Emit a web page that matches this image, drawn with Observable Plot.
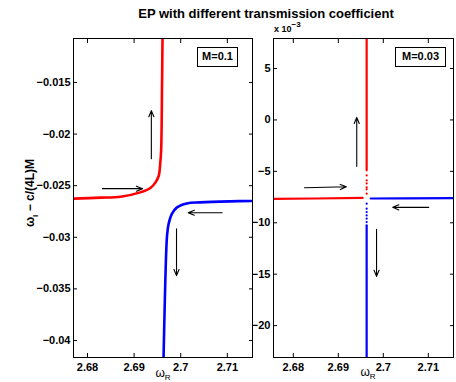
<!DOCTYPE html>
<html><head><meta charset="utf-8">
<script src="https://cdn.jsdelivr.net/npm/d3@7"></script>
<script src="https://cdn.jsdelivr.net/npm/@observablehq/plot@0.6"></script>
<style>
body{margin:0;background:#fff;}
#wrap{position:relative;width:456px;height:382px;overflow:hidden;font-family:"Liberation Sans",Arial,sans-serif;color:#000;background:#fff;}
.abs{position:absolute;white-space:nowrap;line-height:1;}
.box{position:absolute;border:1px solid #000;background:#fff;font-weight:bold;font-size:11px;text-align:center;box-sizing:border-box;line-height:17px;}
</style></head><body><div id="wrap"></div>
<script>
// ---- text ----
const title = "EP with different transmission coefficient";
const legendLeft = "M=0.1";
const legendRight = "M=0.03";

// ---- ticks ----
const xTicks = [2.68, 2.69, 2.70, 2.71];
const xTickLabels = ["2.68", "2.69", "2.7", "2.71"];
const yTicksL = [-0.04, -0.035, -0.03, -0.025, -0.02, -0.015];
const yTickLabelsL = ["\u22120.04", "\u22120.035", "\u22120.03", "\u22120.025", "\u22120.02", "\u22120.015"];
const yTicksR = [-20, -15, -10, -5, 0, 5];
const yTickLabelsR = ["\u221220", "\u221215", "\u221210", "\u22125", "0", "5"];

// ---- left panel (M=0.1) ----
const redLx = [2.677, 2.6828, 2.6871, 2.6913, 2.6935, 2.6946, 2.6953, 2.6956, 2.6958, 2.6960, 2.6961];
const redLy = [-0.02626, -0.02616, -0.02607, -0.02565, -0.02522, -0.02468, -0.02403, -0.0229, -0.0216, -0.0150, -0.0105];
const blueLx = [2.6963, 2.6966, 2.6969, 2.6971, 2.6974, 2.6981, 2.6992, 2.7013, 2.7042, 2.7106, 2.7156];
const blueLy = [-0.0420, -0.0360, -0.0313, -0.02968, -0.02871, -0.02774, -0.0271, -0.02672, -0.02662, -0.02652, -0.02648];
const arrLx1 = [2.6937, 2.6832, 2.7089, 2.6991];
const arrLy1 = [-0.02238, -0.02529, -0.02762, -0.02917];
const arrLx2 = [2.6937, 2.6918, 2.7016, 2.6991];
const arrLy2 = [-0.01773, -0.02529, -0.02762, -0.03372];

// ---- right panel (M=0.03), y in units of 1e-3 ----
const redRx = [2.6754, 2.685, 2.6954, 2.6963, 2.6963];
const redRy = [-7.68, -7.64, -7.58, -4.9, 8.2];
const redRseg = [0, 0, 0, 1, 1];
const redDotsY = [-7.17, -6.75, -6.56, -6.17, -5.88, -5.39];
const blueRx = [2.6972, 2.705, 2.7158, 2.6963, 2.6963];
const blueRy = [-7.64, -7.62, -7.60, -10.25, -23.3];
const blueRseg = [0, 0, 0, 1, 1];
const blueDotsY = [-8.14, -8.63, -8.96, -9.28, -9.60, -9.93];
const dotsX = 2.6963;
const arrRx1 = [2.6941, 2.6825, 2.7101, 2.6985];
const arrRy1 = [-4.51, -6.60, -8.50, -10.64];
const arrRx2 = [2.6941, 2.6918, 2.7021, 2.6985];
const arrRy2 = [0.25, -6.50, -8.50, -15.21];

const pts = (xs, ys, seg) => xs.map((x, i) => ({x, y: ys[i], s: seg ? seg[i] : 0}));
const arrows = (a, b, c, d) => a.map((v, i) => ({x1: v, y1: b[i], x2: c[i], y2: d[i]}));

const font = {fontFamily: "'Liberation Sans', Arial, sans-serif", fontSize: "11px", fontWeight: "bold", color: "#000", background: "transparent", overflow: "visible"};

function axes(yT, yL) {
  return [
    Plot.axisX({ticks: xTicks, tickSize: -4, tickPadding: 10, tickFormat: (d, i) => xTickLabels[i], label: null}),
    Plot.axisX({anchor: "top", ticks: xTicks, tickSize: -4, tickFormat: () => "", label: null}),
    Plot.axisY({ticks: yT, tickSize: -4, tickPadding: 7, tickFormat: (d, i) => yL[i], label: null}),
    Plot.axisY({anchor: "right", ticks: yT, tickSize: -4, tickFormat: () => "", label: null}),
    Plot.frame({stroke: "#000", strokeWidth: 1})
  ];
}

const left = Plot.plot({
  width: 256, height: 382, marginLeft: 73, marginRight: 4, marginTop: 38, marginBottom: 25,
  style: font,
  x: {domain: [2.677, 2.7154]},
  y: {domain: [-0.04165, -0.01074]},
  marks: [
    Plot.line(pts(redLx, redLy), {x: "x", y: "y", stroke: "#ff0000", strokeWidth: 2.6, curve: "catmull-rom", clip: true}),
    Plot.line(pts(blueLx, blueLy), {x: "x", y: "y", stroke: "#0000ff", strokeWidth: 2.6, curve: "catmull-rom", clip: true}),
    Plot.arrow(arrows(arrLx1, arrLy1, arrLx2, arrLy2), {x1: "x1", y1: "y1", x2: "x2", y2: "y2", stroke: "#000", strokeWidth: 1.1, headLength: 9, headAngle: 45, bend: 0}),
    ...axes(yTicksL, yTickLabelsL)
  ]
});

const right = Plot.plot({
  width: 226, height: 382, marginLeft: 43, marginRight: 3, marginTop: 38, marginBottom: 25,
  style: font,
  x: {domain: [2.6756, 2.7156]},
  y: {domain: [-23.1, 7.92]},
  marks: [
    Plot.line(pts(redRx, redRy, redRseg), {x: "x", y: "y", z: "s", stroke: "#ff0000", strokeWidth: 2.2, clip: true}),
    Plot.line(pts(blueRx, blueRy, blueRseg), {x: "x", y: "y", z: "s", stroke: "#0000ff", strokeWidth: 2.2, clip: true}),
    Plot.dot(redDotsY, {x: () => dotsX, y: d => d, r: 1.1, fill: "#ff0000", stroke: null}),
    Plot.dot(blueDotsY, {x: () => dotsX, y: d => d, r: 1.1, fill: "#0000ff", stroke: null}),
    Plot.arrow(arrows(arrRx1, arrRy1, arrRx2, arrRy2), {x1: "x1", y1: "y1", x2: "x2", y2: "y2", stroke: "#000", strokeWidth: 1.1, headLength: 9, headAngle: 45, bend: 0}),
    ...axes(yTicksR, yTickLabelsR)
  ]
});

const wrap = document.getElementById("wrap");
left.style.position = "absolute"; left.style.left = "0px"; left.style.top = "0px";
right.style.position = "absolute"; right.style.left = "230px"; right.style.top = "0px";
wrap.appendChild(right);
wrap.appendChild(left);

function addHTML(html, css, cls = "abs") {
  const d = document.createElement("div");
  d.className = cls;
  d.innerHTML = html;
  Object.assign(d.style, css);
  wrap.appendChild(d);
  return d;
}
// title
addHTML(title, {left: "266px", top: "7px", transform: "translateX(-50%)", fontSize: "13px", fontWeight: "bold"});
// x 10^-3
addHTML("x 10<sup style='font-size:8px;position:relative;top:-1px'>\u22123</sup>", {left: "274px", top: "22px", fontSize: "9px", fontWeight: "bold"});
// y label
addHTML("\u03c9<sub style='font-size:8px'>I</sub> \u2212 c/(4L)M", {left: "32px", top: "193px", transform: "translate(-50%,-50%) rotate(-90deg)", fontSize: "12px", fontWeight: "bold"});
// x labels
addHTML("\u03c9<sub style='font-size:8px'>R</sub>", {left: "163px", top: "367px", transform: "translateX(-50%)", fontSize: "12px"});
addHTML("\u03c9<sub style='font-size:8px'>R</sub>", {left: "368px", top: "366px", transform: "translateX(-50%)", fontSize: "12px"});
// legend boxes
addHTML(legendLeft, {left: "197px", top: "47px", width: "41px", height: "20px"}, "box");
addHTML(legendRight, {left: "395px", top: "47px", width: "51px", height: "20px"}, "box");
</script></body></html>
